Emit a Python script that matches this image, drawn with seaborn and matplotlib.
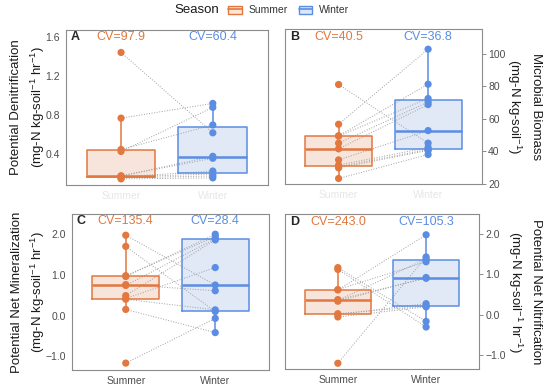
import pandas as pd
import matplotlib.pyplot as plt
import seaborn as sns
from matplotlib.patches import Patch
from matplotlib.lines import Line2D

# categories
seasons = ["Summer", "Winter"]

# paired site values: summer[i] belongs with winter[i]
denit_summer = [1.44, 0.77, 0.45, 0.43, 0.18, 0.18, 0.17, 0.17, 0.16, 0.15]
denit_winter = [0.62, 0.92, 0.70, 0.88, 0.38, 0.36, 0.23, 0.20, 0.18, 0.16]

biomass_summer = [81.0, 56.6, 49.5, 49.3, 45.0, 41.5, 34.7, 31.5, 30.5, 29.8, 23.3]
biomass_winter = [45.0, 102.7, 81.2, 72.4, 70.3, 68.7, 52.7, 42.3, 41.1, 40.5, 38.0]

mineral_summer = [1.975, 1.70, 0.98, 0.96, 0.76, 0.74, 0.49, 0.42, 0.40, 0.15, -1.17]
mineral_winter = [0.75, 0.10, 1.94, 2.00, 0.61, 1.89, 1.86, 1.18, 0.14, -0.42, -0.07]

nitrif_summer = [1.165, 1.12, 0.62, 0.61, 0.37, 0.35, 0.33, 0.02, 0.00, -0.06, -1.21]
nitrif_winter = [-0.17, -0.31, 1.31, 1.98, 0.90, 1.38, 0.92, 0.21, 0.27, 0.19, 1.43]

cv_denit = ["CV=97.9", "CV=60.4"]
cv_biomass = ["CV=40.5", "CV=36.8"]
cv_mineral = ["CV=135.4", "CV=28.4"]
cv_nitrif = ["CV=243.0", "CV=105.3"]

ticks_denit = [0.4, 0.8, 1.2, 1.6]
ticks_biomass = [20, 40, 60, 80, 100]
ticks_net = [-1.0, 0.0, 1.0, 2.0]
ticklabels_denit = ["0.4", "0.8", "1.2", "1.6"]
ticklabels_biomass = ["20", "40", "60", "80", "100"]
ticklabels_net = ["\u22121.0", "0.0", "1.0", "2.0"]

line_colors = {"Summer": "#E2773F", "Winter": "#5B8DE3"}
fill_colors = {"Summer": "#FBE4D8", "Winter": "#DDE7FA"}
grey = "#8c8c8c"

sns.set_style("white")
plt.rcParams["font.family"] = ["Liberation Sans", "DejaVu Sans"]
plt.rcParams["mathtext.fontset"] = "custom"
plt.rcParams["mathtext.rm"] = "Liberation Sans"
plt.rcParams["mathtext.it"] = "Liberation Sans:italic"
plt.rcParams["mathtext.bf"] = "Liberation Sans:bold"


def draw_panel(ax, summer, winter, cv, letter, ylim, ticks, ticklabels,
               ylabel, side, top_row, whis=1.5):
    n = len(summer)
    df = pd.DataFrame({
        "site": list(range(n)) * 2,
        "season": ["Summer"] * n + ["Winter"] * n,
        "value": summer + winter,
    })

    # paired dotted lines between seasons
    sns.lineplot(data=df, x="season", y="value", units="site", estimator=None,
                 color="#a0a0a0", linestyle=":", linewidth=0.7, sort=False,
                 ax=ax, zorder=2, legend=False)
    # light box fill
    sns.boxplot(data=df, x="season", y="value", hue="season", order=seasons,
                hue_order=seasons, palette=fill_colors, width=0.75,
                showfliers=False, showcaps=False, whis=whis, linewidth=0,
                legend=False, ax=ax, boxprops={"zorder": 1})
    # coloured outlines
    sns.boxplot(data=df, x="season", y="value", hue="season", order=seasons,
                hue_order=seasons, palette=line_colors, width=0.75, fill=False,
                showfliers=False, showcaps=False, whis=whis, linewidth=1.1,
                medianprops={"linewidth": 1.8}, legend=False, ax=ax)
    sns.stripplot(data=df, x="season", y="value", hue="season", order=seasons,
                  hue_order=seasons, palette=line_colors, jitter=False, size=5.2,
                  legend=False, ax=ax, zorder=4)

    ax.set_xlim(-0.6, 1.6)
    ax.set_ylim(*ylim)
    ax.set_yticks(ticks)
    ax.set_yticklabels(ticklabels)
    ax.set_xlabel("")
    for i, s in enumerate(seasons):
        ax.text(i, 0.953, cv[i], color=line_colors[s], fontsize=9,
                ha="center", va="center",
                transform=ax.get_xaxis_transform())
    ax.text(0.025, 0.953, letter, fontsize=9, fontweight="bold", ha="left",
            va="center", transform=ax.transAxes)

    for sp in ax.spines.values():
        sp.set_visible(True)
        sp.set_color(grey)
        sp.set_linewidth(0.8)
    ax.tick_params(axis="both", length=3, width=0.7, color=grey,
                   labelsize=7.5, labelcolor="#4d4d4d", pad=1.5)
    if top_row:
        ax.tick_params(axis="x", labelcolor="#e6e6e6")
    if side == "right":
        ax.yaxis.tick_right()
        ax.yaxis.set_label_position("right")
        ax.set_ylabel(ylabel, fontsize=9.5, rotation=270, va="bottom",
                      labelpad=0, linespacing=1.45, color="#1a1a1a")
    else:
        ax.set_ylabel(ylabel, fontsize=9.5, labelpad=-1, linespacing=1.45,
                      color="#1a1a1a")


fig = plt.figure(figsize=(5.5, 3.91), dpi=100)
ax_a = fig.add_axes([0.120, 0.527, 0.367, 0.396])
ax_b = fig.add_axes([0.518, 0.529, 0.358, 0.396])
ax_c = fig.add_axes([0.131, 0.054, 0.358, 0.399])
ax_d = fig.add_axes([0.518, 0.056, 0.353, 0.396])

unit_hr = "(mg-N kg-soil$^{-1}$ hr$^{-1}$)"
draw_panel(ax_a, denit_summer, denit_winter, cv_denit, "A", (0.088, 1.668),
           ticks_denit, ticklabels_denit, "Potential Denitrification\n" + unit_hr,
           "left", True)
draw_panel(ax_b, biomass_summer, biomass_winter, cv_biomass, "B", (19.8, 114.9),
           ticks_biomass, ticklabels_biomass,
           "Microbial Biomass\n(mg-N kg-soil$^{-1}$)", "right", True)
draw_panel(ax_c, mineral_summer, mineral_winter, cv_mineral, "C", (-1.337, 2.5),
           ticks_net, ticklabels_net, "Potential Net Mineralization\n" + unit_hr,
           "left", False, whis=2.5)
draw_panel(ax_d, nitrif_summer, nitrif_winter, cv_nitrif, "D", (-1.355, 2.49),
           ticks_net, ticklabels_net, "Potential Net Nitrification\n" + unit_hr,
           "right", False)

# legend across the top
fig.text(0.358, 0.974, "Season", fontsize=9.5, ha="center", va="center",
         color="#1a1a1a")
handles = [(Patch(facecolor=fill_colors[s], edgecolor=line_colors[s], linewidth=1),
            Line2D([], [], color=line_colors[s], linewidth=1.2)) for s in seasons]
fig.legend(handles, seasons, loc="center", bbox_to_anchor=(0.525, 0.974),
           ncol=2, frameon=False, fontsize=7.5, handlelength=1.3,
           handleheight=0.8, handletextpad=0.7, columnspacing=1.0,
           labelcolor="#333333")

fig.savefig("out.png", dpi=100)
